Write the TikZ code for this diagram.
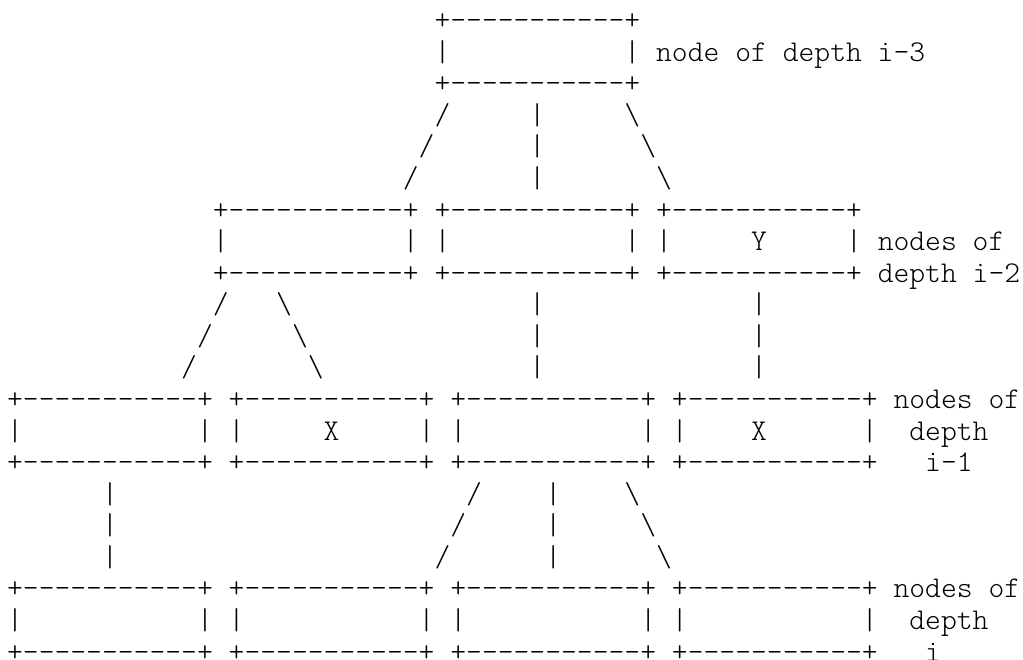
\documentclass[tikz,border=0pt]{standalone}
\usepackage{tikz}
\usetikzlibrary{positioning}

% one character cell of the typewriter font
\newcommand\gap[1]{\hbox to #1\fontcharwd\font`\+{}}
\tikzset{asc/.style={anchor=base west,inner sep=0pt,outer sep=0pt,
  font=\ttfamily\fontseries{l}\fontsize{30.15}{31.6}\selectfont}}

\begin{document}
\begin{tikzpicture}[x=15.83pt,y=-31.57pt]
\useasboundingbox (0pt,0pt) rectangle (1023pt,-659pt);
\begin{scope}[shift={(7.1pt,-29.7pt)}]
% boxes
\foreach \c/\r in {27/0,13/6,27/6,41/6,0/12,14/12,28/12,42/12,0/18,14/18,28/18,42/18}{
  \node[asc] (top\c-\r) at (\c,\r) {+-----------+};
  \node[asc] (mid\c-\r) at (\c,\r+1) {|\gap{11}|};
  \node[asc] (bot\c-\r) at (\c,\r+2) {+-----------+};
}
% keys in the boxes
\node[asc] (keyY) at (47,7) {Y};
\node[asc] (keyX1) at (20,13) {X};
\node[asc] (keyX2) at (47,13) {X};
% edges
\foreach \c/\r in {27/3,26/4,25/5,13/9,12/10,11/11,29/15,28/16,27/17}
  \node[asc] (sl\c-\r) at (\c,\r) {/};
\foreach \c/\r in {39/3,40/4,41/5,17/9,18/10,19/11,39/15,40/16,41/17}
  \node[asc] (bs\c-\r) at (\c,\r) {\textbackslash};
\foreach \c/\r in {33/3,33/4,33/5,33/9,33/10,33/11,47/9,47/10,47/11,6/15,6/16,6/17,34/15,34/16,34/17}
  \node[asc] (vl\c-\r) at (\c,\r) {|};
% depth labels
\node[asc] (lab3) at (41,1) {node of depth i-3};
\node[asc] (lab2a) at (55,7) {nodes of};
\node[asc] (lab2b) at (55,8) {depth i-2};
\node[asc] (lab1a) at (56,12) {nodes of};
\node[asc] (lab1b) at (57,13) {depth};
\node[asc] (lab1c) at (58,14) {i-1};
\node[asc] (lab0a) at (56,18) {nodes of};
\node[asc] (lab0b) at (57,19) {depth};
\node[asc] (lab0c) at (58,20) {i};
\end{scope}
\end{tikzpicture}
\end{document}
